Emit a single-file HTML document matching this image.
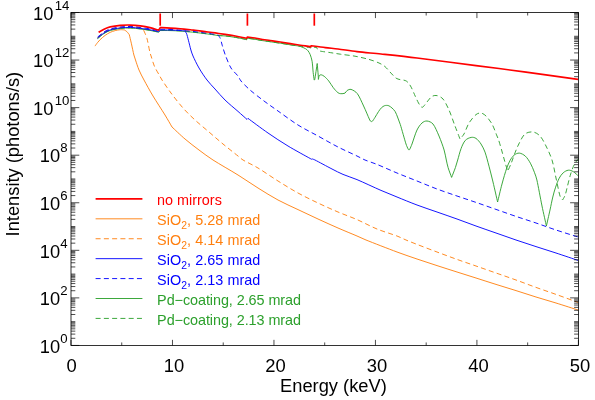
<!DOCTYPE html>
<html lang="en"><head><meta charset="utf-8"><title>Intensity vs Energy</title>
<style>html,body{margin:0;padding:0;background:#fff}body{width:595px;height:400px;overflow:hidden}</style></head>
<body>
<svg width="595" height="400" viewBox="0 0 595 400" style="display:block">
<rect width="595" height="400" fill="#fff"/>
<defs><clipPath id="cp"><rect x="71.0" y="12.5" width="508.4" height="332.9"/></clipPath></defs>
<g fill="none" stroke-linejoin="round" clip-path="url(#cp)">
<path d="M95.00 46.10C95.42 45.52 96.65 43.67 97.50 42.60C98.31 41.58 99.16 40.59 100.10 39.70C101.37 38.50 103.43 36.62 105.10 35.40C106.67 34.25 108.42 33.20 110.10 32.40C111.73 31.63 113.50 31.05 115.20 30.60C116.87 30.16 118.78 29.82 120.30 29.70C121.63 29.60 123.63 29.87 124.30 29.90L124.30 29.90C124.72 30.18 126.07 30.90 126.80 31.60C127.63 32.40 128.88 34.18 129.30 34.70L129.30 34.70C129.63 36.12 130.66 40.36 131.30 43.20C132.07 46.58 133.20 52.20 133.90 55.00C134.32 56.70 134.94 58.34 135.50 60.00C136.35 62.50 137.62 66.75 139.00 70.00C140.42 73.33 142.23 76.72 144.00 80.00C146.33 84.33 149.85 90.75 153.00 96.00C156.50 101.83 161.83 109.83 165.00 115.00C167.42 118.95 170.83 125.00 172.00 127.00L172.00 127.00C174.17 129.00 180.51 135.18 185.00 139.00C189.50 142.83 194.33 146.50 199.00 150.00C203.59 153.44 208.17 156.91 213.00 160.00C219.50 164.17 230.50 170.33 238.00 175.00C244.75 179.20 251.33 183.83 258.00 188.00C264.59 192.12 271.33 196.40 278.00 200.00C284.51 203.51 291.33 206.43 298.00 209.60C304.65 212.76 311.33 215.93 318.00 219.00C324.64 222.06 331.50 225.17 338.00 228.00C344.30 230.75 352.33 234.00 357.00 236.00C360.02 237.29 362.95 238.78 366.00 240.00C372.67 242.67 388.50 248.83 397.00 252.00C403.62 254.47 410.33 256.73 417.00 259.00C423.65 261.26 430.33 263.43 437.00 265.60C443.66 267.76 450.50 269.93 457.00 272.00C463.33 274.01 469.67 275.99 476.00 278.00C482.50 280.07 489.33 282.30 496.00 284.40C502.66 286.50 509.34 288.50 516.00 290.60C522.67 292.70 529.33 294.93 536.00 297.00C542.65 299.06 549.35 300.94 556.00 303.00C563.00 305.17 574.33 308.83 578.00 310.00" stroke="#ff7f0e" stroke-width="0.92"/>
<path d="M97.60 38.60C98.67 37.75 101.90 34.85 104.00 33.50C105.93 32.26 108.01 31.17 110.20 30.50C112.92 29.67 116.95 28.92 120.30 28.50C123.61 28.09 126.96 27.92 130.30 28.00C133.65 28.08 137.12 28.60 140.40 29.00C143.61 29.39 146.95 29.86 150.00 30.40C152.92 30.92 157.25 31.94 158.70 32.25L160.20 30.54C161.83 30.54 166.73 30.50 170.00 30.58C173.35 30.66 177.90 30.88 180.30 31.01C181.67 31.09 183.03 31.26 184.40 31.39C186.85 31.62 191.55 32.05 195.00 32.42C198.37 32.79 202.07 33.28 205.10 33.66C207.80 34.00 211.02 34.39 213.20 34.71C214.87 34.96 216.52 35.41 218.20 35.58C220.22 35.79 222.94 35.69 225.30 35.94C228.15 36.24 231.98 36.82 235.30 37.38C238.65 37.94 243.52 38.93 245.40 39.31C245.81 39.40 246.40 39.64 246.60 39.71L247.40 38.30C248.67 38.46 252.88 38.94 255.00 39.26C256.71 39.51 258.39 39.95 260.10 40.23C262.63 40.64 266.83 41.23 270.20 41.73C273.57 42.23 276.95 42.71 280.30 43.23C283.64 43.74 287.78 44.43 290.30 44.83C292.00 45.10 294.55 45.49 295.40 45.62L295.40 45.50C296.23 45.67 298.78 45.99 300.40 46.50C302.08 47.03 304.23 47.98 305.50 48.70C306.45 49.24 307.32 49.95 308.00 50.80C308.78 51.78 309.67 53.24 310.20 54.60C310.88 56.35 311.72 59.01 312.10 61.30C312.60 64.32 312.85 69.57 313.20 72.70C313.48 75.17 314.03 78.87 314.20 80.10L314.20 80.10C314.29 80.00 314.70 79.77 314.75 79.50C315.25 76.73 316.79 66.17 317.20 63.50L317.20 63.50C317.37 65.42 318.00 72.35 318.20 75.00C318.31 76.46 318.37 78.67 318.40 79.40L318.40 79.40C318.55 78.77 318.83 76.37 319.30 75.60C319.66 75.01 320.52 74.70 321.20 74.80C322.02 74.92 323.33 75.59 324.20 76.30C325.45 77.32 327.36 79.22 328.70 80.90C330.22 82.80 331.78 85.75 333.30 87.70C334.66 89.45 336.55 91.60 337.80 92.60C338.63 93.27 339.74 93.63 340.80 93.70C342.00 93.78 343.97 93.62 345.00 93.10C345.95 92.62 346.09 91.16 347.00 90.60C348.00 89.98 349.66 89.01 351.00 89.40C352.72 89.90 355.77 91.59 357.30 93.60C359.40 96.37 361.62 101.81 363.60 106.00C365.60 110.23 368.17 116.50 369.30 119.00C369.61 119.69 370.03 120.57 370.40 121.00C370.67 121.32 371.13 121.60 371.50 121.60C371.87 121.60 372.33 121.32 372.60 121.00C373.18 120.30 374.23 118.62 375.00 117.40C375.98 115.83 377.40 113.23 378.50 111.60C379.44 110.20 380.63 108.57 381.60 107.60C382.36 106.84 383.47 106.17 384.30 105.80C385.01 105.49 385.83 105.40 386.60 105.40C387.37 105.40 388.20 105.46 388.90 105.80C389.80 106.23 391.07 107.14 392.00 108.00C393.05 108.97 394.38 110.22 395.20 111.60C396.18 113.27 397.05 115.85 397.90 118.00C398.75 120.15 399.61 122.29 400.30 124.50C401.65 128.83 404.68 139.88 406.00 144.00C406.57 145.79 407.70 148.20 408.20 149.20C408.37 149.54 408.73 150.00 409.00 150.00C409.27 150.00 409.63 149.54 409.80 149.20C410.30 148.20 411.34 145.76 412.00 144.00C413.20 140.80 415.33 133.50 417.00 130.00C418.23 127.41 420.33 124.50 422.00 123.00C423.33 121.80 425.21 120.84 427.00 121.00C428.83 121.17 431.60 122.25 433.00 124.00C435.00 126.50 437.24 131.89 439.00 136.00C440.85 140.33 442.88 146.00 444.10 150.00C445.09 153.27 445.63 157.07 446.30 160.00C446.88 162.54 447.34 165.11 448.10 167.60C448.98 170.50 451.02 175.77 451.60 177.40L451.60 177.40C452.23 175.77 454.38 170.50 455.40 167.60C456.28 165.10 456.94 162.54 457.70 160.00C458.65 156.82 459.83 151.77 461.10 148.50C462.20 145.66 463.62 142.25 465.30 140.40C466.78 138.77 469.42 137.73 471.20 137.40C472.81 137.10 474.64 137.49 476.00 138.40C477.63 139.50 479.63 141.91 481.00 144.00C482.50 146.28 483.98 149.27 485.00 152.10C486.33 155.80 487.74 161.48 489.00 166.20C490.33 171.18 491.73 176.72 493.00 182.00C494.43 187.97 496.83 198.67 497.60 202.00L497.60 202.00C498.33 199.00 500.48 189.63 502.00 184.00C503.43 178.69 505.33 172.17 506.70 168.20C507.65 165.45 508.95 162.38 510.20 160.20C511.27 158.33 512.68 156.28 514.20 155.10C515.64 153.98 517.48 152.94 519.30 153.10C521.15 153.27 523.65 154.60 525.30 156.10C527.15 157.78 528.97 160.66 530.40 163.20C531.92 165.90 533.32 169.50 534.40 172.30C535.37 174.82 536.31 177.37 536.90 180.00C538.17 185.62 540.42 198.33 542.00 206.00C543.38 212.69 545.67 222.67 546.40 226.00L546.40 226.00C547.00 223.33 548.93 214.83 550.00 210.00C550.96 205.67 551.87 200.80 552.80 197.00C553.61 193.70 554.53 190.33 555.60 187.20C556.64 184.14 557.93 180.60 559.20 178.20C560.25 176.22 561.68 174.13 563.20 172.80C564.63 171.54 566.63 170.40 568.30 170.20C569.97 170.00 571.73 170.75 573.20 171.60C574.88 172.57 577.53 175.27 578.40 176.00" stroke="#2ca02c" stroke-width="0.92"/>
<path d="M97.60 38.40C98.67 37.55 101.90 34.65 104.00 33.30C105.93 32.06 108.01 30.97 110.20 30.30C112.92 29.47 116.95 28.72 120.30 28.30C123.61 27.89 126.96 27.72 130.30 27.80C133.65 27.88 137.12 28.40 140.40 28.80C143.61 29.19 146.95 29.66 150.00 30.20C152.92 30.72 157.25 31.75 158.70 32.06L160.20 30.35C161.83 30.36 166.73 30.32 170.00 30.40C173.35 30.49 177.90 30.72 180.30 30.86C181.67 30.93 183.03 31.10 184.40 31.24C186.85 31.47 191.55 31.90 195.00 32.29C198.37 32.66 202.07 33.15 205.10 33.54C207.80 33.88 211.02 34.28 213.20 34.60C214.87 34.85 216.52 35.30 218.20 35.47C220.22 35.68 222.94 35.59 225.30 35.84C228.15 36.14 231.98 36.73 235.30 37.29C238.65 37.86 243.52 38.85 245.40 39.24C245.81 39.33 246.40 39.57 246.60 39.64L247.40 38.24C248.67 38.40 252.88 38.88 255.00 39.20C256.71 39.46 258.39 39.90 260.10 40.17C262.63 40.59 266.83 41.17 270.20 41.67C273.57 42.17 276.95 42.66 280.30 43.17C283.64 43.69 287.78 44.38 290.30 44.77C292.00 45.05 293.72 45.32 295.40 45.57C297.06 45.82 298.73 46.04 300.40 46.27C302.85 46.62 308.40 47.38 310.10 47.67C310.31 47.71 310.52 48.01 310.60 48.07L311.20 46.77L316.70 47.57L316.70 47.40C316.87 47.77 317.15 49.01 317.70 49.60C318.28 50.22 319.25 50.87 320.20 51.10C322.30 51.60 326.94 52.08 330.30 52.60C333.67 53.12 337.03 53.71 340.40 54.20C344.52 54.80 350.23 55.33 355.00 56.20C359.71 57.06 365.00 58.27 369.00 59.40C372.41 60.37 376.33 61.80 379.00 63.00C381.13 63.96 383.22 65.10 385.00 66.60C387.00 68.28 389.15 71.17 391.00 73.10C392.66 74.84 394.58 77.12 396.10 78.20C397.25 79.02 398.73 79.25 400.10 79.60C401.62 79.98 403.85 79.98 405.20 80.50C406.36 80.94 407.37 81.78 408.20 82.70C409.20 83.82 410.37 85.60 411.20 87.20C412.38 89.47 414.08 93.67 415.30 96.30C416.34 98.55 417.58 101.32 418.50 103.00C419.15 104.20 420.18 105.68 420.80 106.40C421.16 106.82 421.73 107.30 422.20 107.30C422.67 107.30 423.23 106.81 423.60 106.40C424.40 105.52 425.81 103.42 427.00 102.00C428.40 100.33 430.33 97.47 432.00 96.40C433.42 95.49 435.36 95.21 437.00 95.60C438.83 96.03 441.53 97.23 443.00 99.00C445.00 101.40 447.30 106.18 449.00 110.00C451.00 114.50 453.17 121.17 455.00 126.00C456.65 130.34 459.17 136.83 460.00 139.00L460.00 139.00C460.67 138.17 462.95 135.86 464.00 134.00C465.50 131.33 467.00 126.23 469.00 123.00C470.92 119.90 474.00 116.27 476.00 114.60C477.34 113.48 479.33 112.77 481.00 113.00C482.67 113.23 484.63 114.63 486.00 116.00C487.83 117.83 490.39 121.08 492.00 124.00C493.83 127.33 495.90 133.33 497.00 136.00C497.55 137.33 498.15 138.64 498.60 140.00C499.37 142.33 500.64 146.66 501.60 150.00C502.62 153.53 503.68 157.65 504.70 161.20C505.67 164.58 507.20 169.62 507.70 171.30L507.70 171.30C508.28 169.95 510.12 165.93 511.20 163.20C512.47 160.00 513.95 155.47 515.30 152.10C516.53 149.02 517.73 145.92 519.30 143.00C520.92 139.98 522.72 135.83 525.00 134.00C527.14 132.28 530.50 131.67 533.00 132.00C535.50 132.33 538.17 134.03 540.00 136.00C542.17 138.33 544.26 142.52 546.00 146.00C548.00 150.00 550.49 155.15 552.00 160.00C553.67 165.33 554.67 172.00 556.00 178.00C557.33 184.00 558.90 192.33 560.00 196.00C560.46 197.52 562.17 199.33 562.60 200.00L562.60 200.00C563.03 199.17 564.57 196.77 565.20 195.00C565.98 192.80 566.60 189.53 567.30 186.80C568.15 183.50 569.30 178.57 570.30 175.20C571.16 172.29 572.42 168.73 573.30 166.60C573.91 165.13 574.75 163.70 575.60 162.40C576.43 161.13 577.93 159.40 578.40 158.80" stroke="#2ca02c" stroke-width="0.92" stroke-dasharray="5 3.27"/>
<path d="M97.60 37.40C98.67 36.55 101.90 33.65 104.00 32.30C105.93 31.06 108.01 29.97 110.20 29.30C112.92 28.47 116.95 27.72 120.30 27.30C123.61 26.89 126.96 26.72 130.30 26.80C133.65 26.88 138.22 27.25 140.40 27.80C141.62 28.11 142.90 29.72 143.40 30.10L143.60 30.10C144.15 31.45 146.10 35.40 146.90 38.20C147.95 41.90 149.15 49.17 149.90 52.30C150.28 53.90 150.90 55.43 151.40 57.00C152.13 59.28 153.05 63.11 154.30 66.00C155.60 69.00 157.92 72.67 159.20 75.00C160.12 76.67 160.95 78.40 162.00 80.00C163.97 83.00 167.84 88.78 171.00 93.00C174.50 97.67 179.00 103.50 183.00 108.00C186.76 112.23 190.84 116.16 195.00 120.00C199.33 124.00 204.33 128.00 209.00 132.00C213.67 136.00 218.26 140.08 223.00 144.00C227.83 148.00 234.67 153.33 238.00 156.00C239.67 157.33 241.17 158.90 243.00 160.00C246.33 162.00 253.14 165.08 258.00 168.00C263.83 171.50 271.33 176.83 278.00 181.00C284.59 185.12 291.33 189.33 298.00 193.00C304.53 196.59 311.33 199.83 318.00 203.00C324.60 206.14 331.50 209.23 338.00 212.00C344.28 214.67 350.75 216.87 357.00 219.60C363.50 222.43 370.33 226.27 377.00 229.00C383.54 231.68 392.17 234.17 397.00 236.00C400.07 237.16 402.97 238.73 406.00 240.00C409.33 241.40 413.32 242.97 417.00 244.40C422.17 246.40 430.33 249.50 437.00 252.00C443.66 254.50 450.50 257.07 457.00 259.40C463.31 261.67 469.67 263.79 476.00 266.00C482.50 268.27 489.33 270.67 496.00 273.00C502.67 275.33 509.35 277.61 516.00 280.00C522.67 282.40 529.33 285.00 536.00 287.40C542.65 289.79 549.35 292.02 556.00 294.40C563.00 296.90 574.33 301.07 578.00 302.40" stroke="#ff7f0e" stroke-width="0.92" stroke-dasharray="5 3.27"/>
<path d="M97.60 38.00C98.67 37.15 101.90 34.25 104.00 32.90C105.93 31.66 108.01 30.57 110.20 29.90C112.92 29.07 116.95 28.32 120.30 27.90C123.61 27.49 126.96 27.32 130.30 27.40C133.65 27.48 137.12 28.00 140.40 28.40C143.61 28.79 146.95 29.25 150.00 29.80C152.92 30.32 157.25 31.37 158.70 31.68L160.20 29.98C161.83 29.99 166.73 29.97 170.00 30.06C173.35 30.15 177.90 30.39 180.30 30.54C181.67 30.62 183.72 30.86 184.40 30.93L184.40 30.70C184.73 31.12 185.99 32.22 186.40 33.20C187.07 34.78 187.77 37.86 188.40 40.20C189.15 43.00 190.13 47.37 190.90 50.00C191.49 52.03 192.13 54.07 193.00 56.00C194.35 59.00 196.75 64.14 199.00 68.00C201.33 72.00 204.33 76.50 207.00 80.00C209.43 83.19 212.31 86.02 215.00 89.00C218.00 92.33 221.45 96.54 225.00 100.00C228.83 103.73 234.33 108.17 238.00 111.40C241.01 114.05 245.50 118.07 247.00 119.40L248.00 118.40C251.33 120.83 261.33 128.40 268.00 133.00C274.54 137.52 281.20 141.89 288.00 146.00C295.00 150.23 306.08 156.20 310.00 158.40C310.49 158.68 311.25 159.07 311.50 159.20L312.00 158.80C312.50 159.00 314.04 159.51 315.00 160.00C318.33 161.70 327.33 166.60 332.00 169.00C335.63 170.87 339.24 172.81 343.00 174.40C347.17 176.17 352.41 177.67 357.00 179.60C363.33 182.27 374.33 187.50 381.00 190.40C386.29 192.70 391.65 194.83 397.00 197.00C403.00 199.43 410.33 202.50 417.00 205.00C423.61 207.48 430.33 209.67 437.00 212.00C443.67 214.33 450.50 216.67 457.00 219.00C463.35 221.28 469.65 223.72 476.00 226.00C482.50 228.33 489.33 230.67 496.00 233.00C502.67 235.33 509.33 237.73 516.00 240.00C522.65 242.26 529.33 244.43 536.00 246.60C542.66 248.76 549.35 250.82 556.00 253.00C563.00 255.30 574.33 259.17 578.00 260.40" stroke="#0000ff" stroke-width="0.92"/>
<path d="M97.60 37.10C98.67 36.25 101.90 33.35 104.00 32.00C105.93 30.76 108.01 29.67 110.20 29.00C112.92 28.17 116.95 27.42 120.30 27.00C123.61 26.59 126.96 26.42 130.30 26.50C133.65 26.58 137.12 27.10 140.40 27.50C143.61 27.89 146.95 28.33 150.00 28.90C152.93 29.45 157.25 30.58 158.70 30.91L160.20 29.23C161.83 29.27 166.74 29.32 170.00 29.46C173.35 29.60 177.90 29.91 180.30 30.09C181.67 30.19 183.03 30.40 184.40 30.54C186.85 30.80 191.55 31.25 195.00 31.65C198.37 32.04 202.07 32.55 205.10 32.95C207.80 33.31 211.02 33.72 213.20 34.05C214.87 34.31 217.37 34.80 218.20 34.95L218.20 35.10C218.53 35.62 219.75 37.06 220.20 38.20C220.87 39.88 221.50 42.88 222.20 45.20C223.05 48.00 224.07 51.80 225.30 55.00C226.77 58.80 228.88 64.50 231.00 68.00C232.83 71.03 236.33 73.83 238.00 76.00C239.19 77.54 239.74 79.52 241.00 81.00C243.00 83.33 246.80 87.22 250.00 90.00C253.83 93.33 259.33 97.50 264.00 101.00C268.59 104.44 273.31 107.69 278.00 111.00C283.67 115.00 291.33 120.83 298.00 125.00C304.45 129.03 311.33 132.33 318.00 136.00C324.67 139.67 331.50 143.67 338.00 147.00C344.24 150.20 352.50 153.83 357.00 156.00C359.69 157.29 362.25 158.85 365.00 160.00C368.33 161.40 373.05 162.80 377.00 164.40C382.33 166.57 390.33 170.23 397.00 173.00C403.63 175.75 410.33 178.33 417.00 181.00C423.67 183.67 430.33 186.50 437.00 189.00C443.61 191.48 450.50 193.77 457.00 196.00C463.32 198.17 469.68 200.23 476.00 202.40C482.50 204.63 489.33 207.07 496.00 209.40C502.67 211.73 509.33 214.13 516.00 216.40C522.65 218.66 529.35 220.74 536.00 223.00C542.67 225.27 549.30 227.77 556.00 230.00C563.00 232.33 574.33 235.83 578.00 237.00" stroke="#0000ff" stroke-width="0.92" stroke-dasharray="5 3.27"/>
<path d="M98.60 32.30C99.50 31.78 102.12 30.08 104.00 29.20C105.93 28.30 108.05 27.40 110.20 26.90C112.92 26.27 116.95 25.70 120.30 25.40C123.62 25.10 126.97 25.02 130.30 25.10C133.65 25.18 137.12 25.48 140.40 25.90C143.62 26.31 146.95 26.88 150.00 27.60C152.95 28.29 157.25 29.77 158.70 30.20L160.20 27.60C161.88 27.68 166.95 27.90 170.30 28.10C173.64 28.30 176.97 28.53 180.30 28.80C183.65 29.07 187.95 29.45 190.40 29.70C191.94 29.86 193.47 30.10 195.00 30.30C197.45 30.62 201.73 31.17 205.10 31.60C208.47 32.03 211.84 32.43 215.20 32.90C218.57 33.37 221.95 33.88 225.30 34.40C228.64 34.91 231.98 35.40 235.30 36.00C238.65 36.60 243.52 37.60 245.40 38.00C245.81 38.09 246.40 38.33 246.60 38.40L247.40 37.00C248.67 37.17 252.88 37.67 255.00 38.00C256.71 38.27 258.39 38.72 260.10 39.00C262.63 39.42 266.83 40.00 270.20 40.50C273.57 41.00 276.95 41.48 280.30 42.00C283.64 42.51 286.97 43.07 290.30 43.60C293.65 44.13 297.10 44.70 300.40 45.20C303.63 45.69 308.40 46.30 310.10 46.60C310.31 46.64 310.52 46.93 310.60 47.00L311.20 45.70C313.55 46.02 320.83 47.05 325.30 47.60C329.53 48.12 333.77 48.47 338.00 49.00C343.28 49.67 350.65 50.86 357.00 51.60C364.17 52.43 373.01 53.15 381.00 54.00C391.00 55.07 405.02 56.54 417.00 58.00C432.83 59.93 457.83 63.25 476.00 65.60C492.67 67.76 509.34 69.85 526.00 72.10C543.00 74.40 569.33 78.18 578.00 79.40" stroke="#ff0000" stroke-width="1.6"/>
</g>
<g stroke="#ff0000" stroke-width="1.7">
<line x1="160.2" y1="13.5" x2="160.2" y2="25.7"/>
<line x1="247.4" y1="13.5" x2="247.4" y2="25.7"/>
<line x1="314.3" y1="13.5" x2="314.3" y2="25.7"/>
</g>
<g stroke="#000" stroke-width="0.8" fill="none">
<rect x="71.0" y="12.5" width="507.4" height="332.9"/>
<path stroke-width="0.7" d="M71.00 345.45v-5.6M71.00 12.50v5.6M121.74 345.45v-3.0M121.74 12.50v3.0M172.48 345.45v-5.6M172.48 12.50v5.6M223.22 345.45v-3.0M223.22 12.50v3.0M273.96 345.45v-5.6M273.96 12.50v5.6M324.70 345.45v-3.0M324.70 12.50v3.0M375.44 345.45v-5.6M375.44 12.50v5.6M426.18 345.45v-3.0M426.18 12.50v3.0M476.92 345.45v-5.6M476.92 12.50v5.6M527.66 345.45v-3.0M527.66 12.50v3.0M578.40 345.45v-5.6M578.40 12.50v5.6M71.00 345.45h8.3M578.40 345.45h-8.3M71.00 338.29h4.3M578.40 338.29h-4.3M71.00 334.10h4.3M578.40 334.10h-4.3M71.00 331.13h4.3M578.40 331.13h-4.3M71.00 328.83h4.3M578.40 328.83h-4.3M71.00 326.94h4.3M578.40 326.94h-4.3M71.00 325.35h4.3M578.40 325.35h-4.3M71.00 323.97h4.3M578.40 323.97h-4.3M71.00 322.76h4.3M578.40 322.76h-4.3M71.00 321.67h4.3M578.40 321.67h-4.3M71.00 314.51h4.3M578.40 314.51h-4.3M71.00 310.32h4.3M578.40 310.32h-4.3M71.00 307.35h4.3M578.40 307.35h-4.3M71.00 305.04h4.3M578.40 305.04h-4.3M71.00 303.16h4.3M578.40 303.16h-4.3M71.00 301.57h4.3M578.40 301.57h-4.3M71.00 300.19h4.3M578.40 300.19h-4.3M71.00 298.97h4.3M578.40 298.97h-4.3M71.00 297.89h8.3M578.40 297.89h-8.3M71.00 290.73h4.3M578.40 290.73h-4.3M71.00 286.54h4.3M578.40 286.54h-4.3M71.00 283.57h4.3M578.40 283.57h-4.3M71.00 281.26h4.3M578.40 281.26h-4.3M71.00 279.38h4.3M578.40 279.38h-4.3M71.00 277.79h4.3M578.40 277.79h-4.3M71.00 276.41h4.3M578.40 276.41h-4.3M71.00 275.19h4.3M578.40 275.19h-4.3M71.00 274.10h4.3M578.40 274.10h-4.3M71.00 266.94h4.3M578.40 266.94h-4.3M71.00 262.76h4.3M578.40 262.76h-4.3M71.00 259.79h4.3M578.40 259.79h-4.3M71.00 257.48h4.3M578.40 257.48h-4.3M71.00 255.60h4.3M578.40 255.60h-4.3M71.00 254.01h4.3M578.40 254.01h-4.3M71.00 252.63h4.3M578.40 252.63h-4.3M71.00 251.41h4.3M578.40 251.41h-4.3M71.00 250.32h8.3M578.40 250.32h-8.3M71.00 243.16h4.3M578.40 243.16h-4.3M71.00 238.97h4.3M578.40 238.97h-4.3M71.00 236.00h4.3M578.40 236.00h-4.3M71.00 233.70h4.3M578.40 233.70h-4.3M71.00 231.82h4.3M578.40 231.82h-4.3M71.00 230.22h4.3M578.40 230.22h-4.3M71.00 228.84h4.3M578.40 228.84h-4.3M71.00 227.63h4.3M578.40 227.63h-4.3M71.00 226.54h4.3M578.40 226.54h-4.3M71.00 219.38h4.3M578.40 219.38h-4.3M71.00 215.19h4.3M578.40 215.19h-4.3M71.00 212.22h4.3M578.40 212.22h-4.3M71.00 209.92h4.3M578.40 209.92h-4.3M71.00 208.03h4.3M578.40 208.03h-4.3M71.00 206.44h4.3M578.40 206.44h-4.3M71.00 205.06h4.3M578.40 205.06h-4.3M71.00 203.85h4.3M578.40 203.85h-4.3M71.00 202.76h8.3M578.40 202.76h-8.3M71.00 195.60h4.3M578.40 195.60h-4.3M71.00 191.41h4.3M578.40 191.41h-4.3M71.00 188.44h4.3M578.40 188.44h-4.3M71.00 186.13h4.3M578.40 186.13h-4.3M71.00 184.25h4.3M578.40 184.25h-4.3M71.00 182.66h4.3M578.40 182.66h-4.3M71.00 181.28h4.3M578.40 181.28h-4.3M71.00 180.06h4.3M578.40 180.06h-4.3M71.00 178.97h4.3M578.40 178.97h-4.3M71.00 171.82h4.3M578.40 171.82h-4.3M71.00 167.63h4.3M578.40 167.63h-4.3M71.00 164.66h4.3M578.40 164.66h-4.3M71.00 162.35h4.3M578.40 162.35h-4.3M71.00 160.47h4.3M578.40 160.47h-4.3M71.00 158.88h4.3M578.40 158.88h-4.3M71.00 157.50h4.3M578.40 157.50h-4.3M71.00 156.28h4.3M578.40 156.28h-4.3M71.00 155.19h8.3M578.40 155.19h-8.3M71.00 148.03h4.3M578.40 148.03h-4.3M71.00 143.85h4.3M578.40 143.85h-4.3M71.00 140.87h4.3M578.40 140.87h-4.3M71.00 138.57h4.3M578.40 138.57h-4.3M71.00 136.69h4.3M578.40 136.69h-4.3M71.00 135.09h4.3M578.40 135.09h-4.3M71.00 133.72h4.3M578.40 133.72h-4.3M71.00 132.50h4.3M578.40 132.50h-4.3M71.00 131.41h4.3M578.40 131.41h-4.3M71.00 124.25h4.3M578.40 124.25h-4.3M71.00 120.06h4.3M578.40 120.06h-4.3M71.00 117.09h4.3M578.40 117.09h-4.3M71.00 114.79h4.3M578.40 114.79h-4.3M71.00 112.90h4.3M578.40 112.90h-4.3M71.00 111.31h4.3M578.40 111.31h-4.3M71.00 109.93h4.3M578.40 109.93h-4.3M71.00 108.72h4.3M578.40 108.72h-4.3M71.00 107.63h8.3M578.40 107.63h-8.3M71.00 100.47h4.3M578.40 100.47h-4.3M71.00 96.28h4.3M578.40 96.28h-4.3M71.00 93.31h4.3M578.40 93.31h-4.3M71.00 91.01h4.3M578.40 91.01h-4.3M71.00 89.12h4.3M578.40 89.12h-4.3M71.00 87.53h4.3M578.40 87.53h-4.3M71.00 86.15h4.3M578.40 86.15h-4.3M71.00 84.93h4.3M578.40 84.93h-4.3M71.00 83.85h4.3M578.40 83.85h-4.3M71.00 76.69h4.3M578.40 76.69h-4.3M71.00 72.50h4.3M578.40 72.50h-4.3M71.00 69.53h4.3M578.40 69.53h-4.3M71.00 67.22h4.3M578.40 67.22h-4.3M71.00 65.34h4.3M578.40 65.34h-4.3M71.00 63.75h4.3M578.40 63.75h-4.3M71.00 62.37h4.3M578.40 62.37h-4.3M71.00 61.15h4.3M578.40 61.15h-4.3M71.00 60.06h8.3M578.40 60.06h-8.3M71.00 52.91h4.3M578.40 52.91h-4.3M71.00 48.72h4.3M578.40 48.72h-4.3M71.00 45.75h4.3M578.40 45.75h-4.3M71.00 43.44h4.3M578.40 43.44h-4.3M71.00 41.56h4.3M578.40 41.56h-4.3M71.00 39.97h4.3M578.40 39.97h-4.3M71.00 38.59h4.3M578.40 38.59h-4.3M71.00 37.37h4.3M578.40 37.37h-4.3M71.00 36.28h4.3M578.40 36.28h-4.3M71.00 29.12h4.3M578.40 29.12h-4.3M71.00 24.94h4.3M578.40 24.94h-4.3M71.00 21.96h4.3M578.40 21.96h-4.3M71.00 19.66h4.3M578.40 19.66h-4.3M71.00 17.78h4.3M578.40 17.78h-4.3M71.00 16.18h4.3M578.40 16.18h-4.3M71.00 14.80h4.3M578.40 14.80h-4.3M71.00 13.59h4.3M578.40 13.59h-4.3M71.00 12.50h8.3M578.40 12.50h-8.3"/>
</g>
<g font-family="'Liberation Sans', Arial, Helvetica, sans-serif" fill="#000">
<text x="71.6" y="372" font-size="18.4" text-anchor="middle">0</text>
<text x="174.0" y="372" font-size="18.4" text-anchor="middle">10</text>
<text x="275.5" y="372" font-size="18.4" text-anchor="middle">20</text>
<text x="376.9" y="372" font-size="18.4" text-anchor="middle">30</text>
<text x="478.4" y="372" font-size="18.4" text-anchor="middle">40</text>
<text x="579.9" y="372" font-size="18.4" text-anchor="middle">50</text>
<text x="333.4" y="392" font-size="18.3" text-anchor="middle">Energy (keV)</text>
<text transform="translate(19.3,236.4) rotate(-90)" font-size="18.3">Intensity (photons/s)</text>
<text x="67.5" y="353" font-size="18.3" text-anchor="end">10<tspan font-size="13.2" dx="0.0" dy="-10">0</tspan></text>
<text x="67.5" y="305" font-size="18.3" text-anchor="end">10<tspan font-size="13.2" dx="0.0" dy="-10">2</tspan></text>
<text x="67.5" y="258" font-size="18.3" text-anchor="end">10<tspan font-size="13.2" dx="0.0" dy="-10">4</tspan></text>
<text x="67.5" y="210" font-size="18.3" text-anchor="end">10<tspan font-size="13.2" dx="0.0" dy="-10">6</tspan></text>
<text x="67.5" y="162" font-size="18.3" text-anchor="end">10<tspan font-size="13.2" dx="0.0" dy="-10">8</tspan></text>
<text x="69.3" y="115" font-size="18.3" text-anchor="end">10<tspan font-size="13.2" dx="1.3" dy="-10">10</tspan></text>
<text x="69.3" y="67" font-size="18.3" text-anchor="end">10<tspan font-size="13.2" dx="1.3" dy="-10">12</tspan></text>
<text x="69.3" y="20" font-size="18.3" text-anchor="end">10<tspan font-size="13.2" dx="1.3" dy="-10">14</tspan></text>
</g>
<g font-family="'Liberation Sans', Arial, Helvetica, sans-serif" font-size="14.4">
<line x1="95.6" y1="198.90" x2="142.4" y2="198.90" stroke="#ff0000" stroke-width="1.7"/>
<text x="157.1" y="205.0" fill="#ff0000">no mirrors</text>
<line x1="95.6" y1="218.82" x2="142.4" y2="218.82" stroke="#ff7f0e" stroke-width="0.92"/>
<text x="157.1" y="225.0" fill="#ff7f0e" letter-spacing="0.05">SiO<tspan font-size="10.4" dy="3.6">2</tspan><tspan dy="-3.6">, 5.28 mrad</tspan></text>
<line x1="95.6" y1="238.74" x2="142.4" y2="238.74" stroke="#ff7f0e" stroke-width="0.92" stroke-dasharray="5 3.27"/>
<text x="157.1" y="245.0" fill="#ff7f0e" letter-spacing="0.05">SiO<tspan font-size="10.4" dy="3.6">2</tspan><tspan dy="-3.6">, 4.14 mrad</tspan></text>
<line x1="95.6" y1="258.66" x2="142.4" y2="258.66" stroke="#0000ff" stroke-width="0.92"/>
<text x="157.1" y="265.0" fill="#0000ff" letter-spacing="0.05">SiO<tspan font-size="10.4" dy="3.6">2</tspan><tspan dy="-3.6">, 2.65 mrad</tspan></text>
<line x1="95.6" y1="278.58" x2="142.4" y2="278.58" stroke="#0000ff" stroke-width="0.92" stroke-dasharray="5 3.27"/>
<text x="157.1" y="285.0" fill="#0000ff" letter-spacing="0.05">SiO<tspan font-size="10.4" dy="3.6">2</tspan><tspan dy="-3.6">, 2.13 mrad</tspan></text>
<line x1="95.6" y1="298.50" x2="142.4" y2="298.50" stroke="#2ca02c" stroke-width="0.92"/>
<text x="157.1" y="305.0" fill="#2ca02c" letter-spacing="-0.065">Pd−coating, 2.65 mrad</text>
<line x1="95.6" y1="318.42" x2="142.4" y2="318.42" stroke="#2ca02c" stroke-width="0.92" stroke-dasharray="5 3.27"/>
<text x="157.1" y="325.0" fill="#2ca02c" letter-spacing="-0.065">Pd−coating, 2.13 mrad</text>
</g>
</svg>
</body></html>
